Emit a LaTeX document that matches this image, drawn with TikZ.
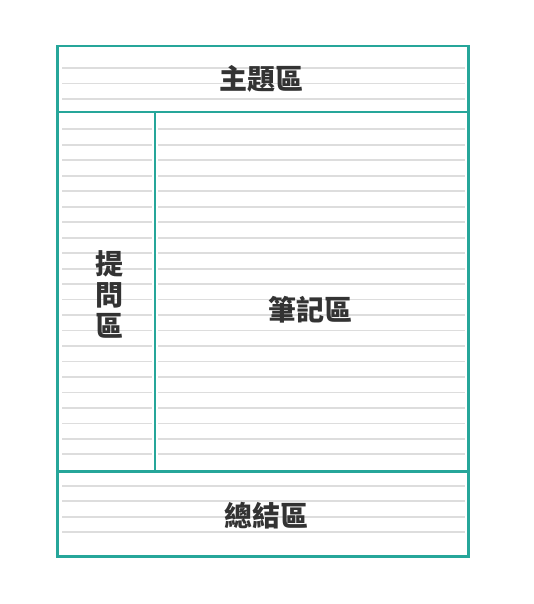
\documentclass[tikz,border=0pt]{standalone}
\usepackage{fontspec}
\newfontfamily\cjk{Noto Sans CJK TC}
\definecolor{teal1}{HTML}{26A69A}
\definecolor{rule1}{HTML}{DDDDDD}
\definecolor{txt}{HTML}{333333}
\begin{document}
\begin{tikzpicture}[x=1pt,y=-1pt,
  ruleline/.style={draw=rule1,line width=1.8pt},
  frame/.style={draw=teal1,line width=2.8pt},
  lbl/.style={text=txt,font=\cjk\bfseries\fontsize{28}{31}\selectfont,inner sep=0pt,align=center}]
\useasboundingbox (0,0) rectangle (534,604);
% ruled lines
\foreach \y in {68,83.5,99,486,501.3,516.7,532}{
  \draw[ruleline] (62,\y) -- (465,\y);
}
\foreach \k in {0,...,21}{
  \pgfmathsetmacro{\yy}{129.3+15.48*\k}
  \draw[ruleline] (62,\yy) -- (152,\yy);
  \draw[ruleline] (158,\yy) -- (465,\yy);
}
% frame
\coordinate (tl) at (57.5,46);
\coordinate (br) at (468.5,556.5);
\coordinate (h1l) at (57.5,112);
\coordinate (h1r) at (468.5,112);
\coordinate (h2l) at (57.5,471.5);
\coordinate (h2r) at (468.5,471.5);
\coordinate (vt) at (155,112);
\coordinate (vb) at (155,471.5);
\draw[frame] (tl) rectangle (br);
\draw[frame] (h1l) -- (h1r);
\draw[frame] (h2l) -- (h2r);
\draw[frame] (vt) -- (vb);
% labels
\node[lbl] (title) at (261,78.5) {主題區};
\node[lbl] (ask) at (109,294) {提\\問\\區};
\node[lbl] (notes) at (310,310) {筆記區};
\node[lbl] (sum) at (266,516) {總結區};
\end{tikzpicture}
\end{document}
